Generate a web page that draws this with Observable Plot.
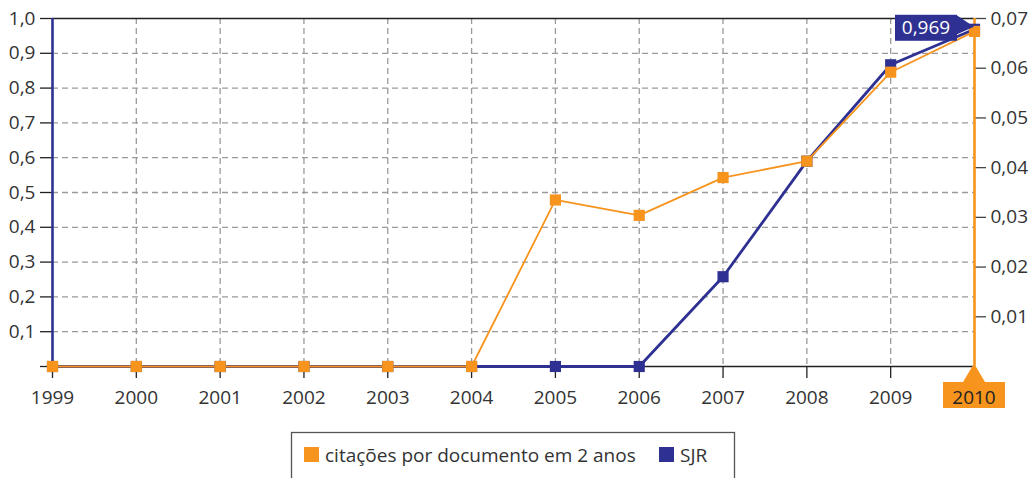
<!DOCTYPE html>
<html><head><meta charset="utf-8">
<script src="https://cdn.jsdelivr.net/npm/d3@7"></script>
<script src="https://cdn.jsdelivr.net/npm/@observablehq/plot@0.6"></script>
<style>body{margin:0;background:#fff;}</style>
</head><body><div id="chart"></div>
<script>
const years = [1999,2000,2001,2002,2003,2004,2005,2006,2007,2008,2009,2010];
const sjr = [0,0,0,0,0,0,0,0,0.258,0.59,0.867,0.969];
const citacoes = [0,0,0,0,0,0,0.0335,0.0304,0.038,0.0413,0.0592,0.0674];
const leftTicks = [0,0.1,0.2,0.3,0.4,0.5,0.6,0.7,0.8,0.9,1.0];
const rightTicks = [0.01,0.02,0.03,0.04,0.05,0.06,0.07];
const rightMax = 0.07;
const seriesNames = ["citações por documento em 2 anos","SJR"];
const highlightLabel = "0,969";
const ORANGE = "#f7941d", NAVY = "#2e3192";
const FONT = "'Open Sans', sans-serif";
const FS = "19px";

const sjrData = years.map((y,i)=>({year:y, value:sjr[i]}));
const citData = years.map((y,i)=>({year:y, value:citacoes[i]/rightMax}));
const fmt1 = d => d === 0 ? "" : d.toFixed(1).replace(".", ",");

const plot = Plot.plot({
  width:1032, height:478,
  marginLeft:52, marginRight:58, marginTop:18, marginBottom:112,
  style:{fontFamily:FONT, fontSize:FS, color:"#333", background:"#fff"},
  x:{type:"linear", domain:[1999,2010]},
  y:{domain:[0,1]},
  marks:[
    Plot.gridY(leftTicks.slice(1,-1), {stroke:"#9a9a9a", strokeOpacity:1, strokeDasharray:"6,4", strokeWidth:1.3}),
    Plot.gridX(years.slice(1,-1), {stroke:"#9a9a9a", strokeOpacity:1, strokeDasharray:"6,4", strokeWidth:1.3}),
    Plot.ruleY([1], {stroke:"#222", strokeWidth:1.3}),
    Plot.ruleY([0], {stroke:"#222", strokeWidth:1.3}),
    Plot.axisY(leftTicks, {anchor:"left", tickSize:12, tickPadding:5, tickFormat:fmt1, stroke:"#222", strokeWidth:1.3, label:null}),
    Plot.axisY(rightTicks.map(v=>v/rightMax), {anchor:"right", tickSize:11, tickPadding:5, tickFormat:d => (d*rightMax).toFixed(2).replace(".", ","), stroke:"#444", strokeWidth:1.3, label:null}),
    Plot.axisX(years.slice(0,-1), {anchor:"bottom", tickSize:12, tickPadding:12, tickFormat:d => String(d), stroke:"#222", strokeWidth:1.3, label:null}),
    Plot.ruleX([1999], {stroke:NAVY, strokeWidth:2.6}),
    Plot.ruleX([2010], {stroke:ORANGE, strokeWidth:2.6}),
    Plot.line(sjrData, {x:"year", y:"value", stroke:NAVY, strokeWidth:2.8}),
    Plot.dot(sjrData, {x:"year", y:"value", symbol:"square", r:6.3, fill:NAVY, stroke:null}),
    Plot.line(citData, {x:"year", y:"value", stroke:ORANGE, strokeWidth:1.8}),
    Plot.dot(citData, {x:"year", y:"value", symbol:"square", r:6.3, fill:ORANGE, stroke:null})
  ]
});
document.getElementById("chart").appendChild(plot);

const svg = d3.select(plot);
const xs = plot.scale("x"), ys = plot.scale("y");
const lastYear = years[years.length-1];
const xl = xs.apply(lastYear), y0 = ys.apply(0);

// highlighted 2010 tick label
const g = svg.append("g").style("font-family", FONT).style("font-size", FS);
g.append("polygon").attr("points", `${xl-1.5},${y0} ${xl+1.5},${y0} ${xl+11},${y0+16} ${xl-11},${y0+16}`).attr("fill", ORANGE);
g.append("rect").attr("x", xl-31).attr("y", y0+16).attr("width", 62).attr("height", 26).attr("fill", ORANGE);
g.append("text").attr("x", xl).attr("y", y0+31).attr("dy", "0.35em").attr("text-anchor", "middle")
  .attr("fill", "#222").text(String(lastYear));

// tooltip for SJR last value
const px = xs.apply(lastYear), py = ys.apply(sjr[sjr.length-1]);
const t = svg.append("g").style("font-family", FONT).style("font-size", FS);
t.append("rect").attr("x", px-79).attr("y", py-14).attr("width", 62).attr("height", 26).attr("fill", NAVY);
t.append("polygon").attr("points", `${px-18},${py-14} ${px},${py-2} ${px-18},${py+6}`).attr("fill", NAVY);
t.append("text").attr("x", px-48).attr("y", py-1).attr("dy", "0.35em").attr("text-anchor", "middle")
  .attr("fill", "#fff").text(highlightLabel);

// legend
const lg = svg.append("g").style("font-family", FONT).style("font-size", FS).attr("text-anchor", "start");
lg.append("rect").attr("x", 291.5).attr("y", 432.5).attr("width", 443).attr("height", 60).attr("fill", "none").attr("stroke", "#555").attr("stroke-width", 1.3);
lg.append("rect").attr("x", 304).attr("y", 447).attr("width", 15).attr("height", 15).attr("fill", ORANGE);
lg.append("text").attr("x", 325).attr("y", 462).attr("fill", "#333").text(seriesNames[0]);
lg.append("rect").attr("x", 659).attr("y", 447).attr("width", 15).attr("height", 15).attr("fill", NAVY);
lg.append("text").attr("x", 680).attr("y", 462).attr("fill", "#333").text(seriesNames[1]);
</script>
</body></html>
